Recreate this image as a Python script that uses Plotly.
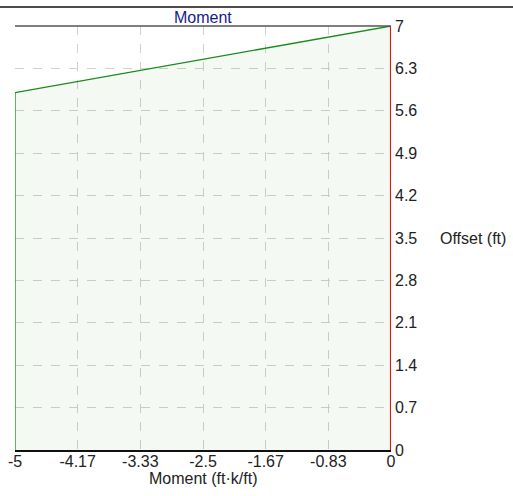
import plotly.graph_objects as go

x_vals = [-5, 0]
y_vals = [5.9, 7]
x_tickvals = [-5, -4.1667, -3.3333, -2.5, -1.6667, -0.8333, 0]
x_ticktext = ["-5", "-4.17", "-3.33", "-2.5", "-1.67", "-0.83", "0"]
y_tickvals = [0, 0.7, 1.4, 2.1, 2.8, 3.5, 4.2, 4.9, 5.6, 6.3, 7]
y_ticktext = ["0", "0.7", "1.4", "2.1", "2.8", "3.5", "4.2", "4.9", "5.6", "6.3", "7"]

fig = go.Figure()
# filled area (translucent so the grid shows through)
fig.add_trace(go.Scatter(
    x=[x_vals[0]] + x_vals + [x_vals[-1], x_vals[0]],
    y=[0] + y_vals + [0, 0],
    mode="lines", fill="toself", fillcolor="rgba(60,150,60,0.06)",
    line=dict(color="rgba(0,0,0,0)", width=0), hoverinfo="skip", showlegend=False))
# left edge + moment line
fig.add_trace(go.Scatter(
    x=[x_vals[0]] + x_vals, y=[0] + y_vals, mode="lines",
    line=dict(color="#1a8a1a", width=1.3), showlegend=False))
# red base line at x=0
fig.add_trace(go.Scatter(
    x=[0, 0], y=[0, 7], mode="lines",
    line=dict(color="#dd1a0a", width=2.2), showlegend=False))

fig.update_layout(
    width=513, height=496,
    margin=dict(l=15, r=122, t=26, b=46),
    paper_bgcolor="white", plot_bgcolor="white",
    font=dict(family="Liberation Sans, Arial, sans-serif", size=16, color="#222"),
    showlegend=False,
    xaxis=dict(range=[-5, 0], tickvals=x_tickvals, ticktext=x_ticktext,
               showgrid=True, gridcolor="#d0d0d0", griddash="dash", gridwidth=1,
               zeroline=False, showline=True, linecolor="#111", linewidth=1.5,
               ticks="", ticklen=0, ticklabelstandoff=-4, automargin=False),
    yaxis=dict(range=[0, 7], tickvals=y_tickvals, ticktext=y_ticktext, side="right",
               showgrid=True, gridcolor="#d0d0d0", griddash="dash", gridwidth=1,
               zeroline=False, showline=False, ticks="", ticklen=0,
               ticklabelstandoff=3, automargin=False),
    shapes=[
        dict(type="line", xref="paper", yref="paper", x0=0, x1=1, y0=1, y1=1,
             line=dict(color="#555", width=1.5)),
        dict(type="line", xref="paper", yref="paper", x0=-1, x1=2, y0=1.045, y1=1.045,
             line=dict(color="#111", width=1.5)),
    ],
    annotations=[
        dict(text="Moment", xref="paper", yref="paper", x=0.5, y=1.0, yanchor="bottom",
             yshift=-2, showarrow=False, font=dict(size=16, color="#1a1a8c")),
        dict(text="Offset (ft)", xref="paper", yref="y", x=1.0, xshift=47, y=3.5,
             xanchor="left", showarrow=False, font=dict(size=16, color="#222")),
        dict(text="Moment (ft·k/ft)", xref="paper", yref="paper", x=0.5, y=0,
             yanchor="top", yshift=-18, showarrow=False,
             font=dict(size=16, color="#222")),
    ],
)
fig.write_html("out.html")
